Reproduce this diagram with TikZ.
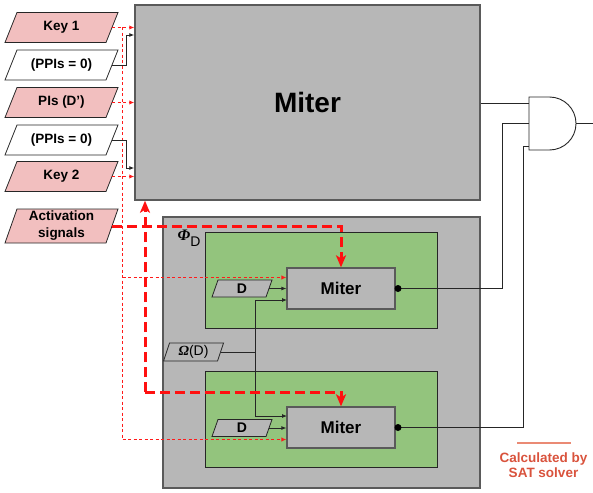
\documentclass[tikz,border=0pt]{standalone}
\usepackage{fontspec}
\setmainfont{Liberation Sans}
\newfontfamily\grk{Liberation Serif}
\usetikzlibrary{arrows.meta}
\definecolor{pinkf}{HTML}{F2BFBF}
\definecolor{grayf}{HTML}{B7B7B7}
\definecolor{greenf}{HTML}{93C47D}
\definecolor{bordg}{HTML}{5A5A5A}
\definecolor{satred}{HTML}{D9533D}
\definecolor{satline}{HTML}{EA8A74}
\definecolor{rdash}{HTML}{FF1010}
\definecolor{rdotc}{HTML}{FF1A1A}
\tikzset{
  paratext/.style={inner sep=0pt, align=center},
  leftlbl/.style={font=\bfseries\fontsize{13.5}{17}\selectfont},
  smalllbl/.style={font=\fontsize{14}{17}\selectfont},
  bigbox/.style={draw=bordg, fill=grayf, line width=1.5pt, inner sep=0pt},
  greenbox/.style={draw=black!85, fill=greenf, line width=1pt, inner sep=0pt},
  minibox/.style={draw=bordg, fill=grayf, line width=1.3pt, inner sep=0pt, font=\bfseries\fontsize{17}{20}\selectfont},
  blk/.style={draw=black!85, line width=0.8pt},
  blkarr/.style={blk, -{Latex[length=5pt,width=4pt]}},
  rdot/.style={draw=rdotc, line width=1.1pt, dash pattern=on 3pt off 2.5pt},
  rdotarr/.style={rdot, -{Latex[length=5pt,width=4.5pt]}},
  rthick/.style={draw=rdash, line width=3pt, dash pattern=on 10pt off 5pt, -{Stealth[length=12pt,width=10pt,inset=3pt]}},
}
\newcommand\paranode[9]{%
  \filldraw[fill=#7, draw=black!85, line width=0.8pt]
    ({#2-#4/2},{#3+#5/2}) -- ({#2-#4/2+#6},{#3-#5/2}) -- ({#2+#4/2},{#3-#5/2}) -- ({#2+#4/2-#6},{#3+#5/2}) -- cycle;
  \node[paratext,#8,minimum width={#4-#6},minimum height=#5] (#1) at (#2,#3) {#9};}
\begin{document}
\begin{tikzpicture}[x=1pt,y=-1pt]
\useasboundingbox (0,0) rectangle (593,492);

% boxes
\node[bigbox, minimum width=345, minimum height=195, font=\bfseries\fontsize{28}{32}\selectfont] (mm) at (307.5,102.5) {Miter};
\node[bigbox, minimum width=317, minimum height=271] (phi) at (321.5,352.5) {};
\node[greenbox, minimum width=232, minimum height=96] (g1box) at (321,280) {};
\node[greenbox, minimum width=232, minimum height=96] (g2box) at (321,419) {};
\node[minibox, minimum width=108, minimum height=41] (im1) at (341,288.5) {Miter};
\node[minibox, minimum width=108, minimum height=41] (im2) at (341,427.5) {Miter};

\node[inner sep=0pt] (phil) at (189,238) {{\grk\bfseries\itshape\fontsize{16}{18}\selectfont Φ}\raisebox{-1.1ex}{\fontsize{14}{16}\selectfont D}};

% left inputs
\paranode{key1}{61.5}{27.5}{113}{30}{12}{pinkf}{leftlbl}{Key 1}
\paranode{ppi1}{61.5}{65}{113}{30}{12}{white}{leftlbl}{(PPIs = 0)}
\paranode{pis}{61.5}{102.5}{113}{30}{12}{pinkf}{leftlbl}{PIs (D’)}
\paranode{ppi2}{61.5}{140}{113}{30}{12}{white}{leftlbl}{(PPIs = 0)}
\paranode{key2}{61.5}{176.5}{113}{30}{12}{pinkf}{leftlbl}{Key 2}
\paranode{act}{61.5}{226}{113}{34}{12}{pinkf}{leftlbl}{Activation\\signals}

% inner inputs
\paranode{d1}{242}{288.5}{60}{17}{6}{grayf}{font=\bfseries\fontsize{14}{16}\selectfont}{D}
\paranode{d2}{242}{428}{60}{17}{6}{grayf}{font=\bfseries\fontsize{14}{16}\selectfont}{D}
\paranode{om}{193.5}{352}{60}{18}{6}{grayf}{smalllbl}{{\grk\bfseries\itshape Ω}(D)}

% coordinates
\coordinate (rt) at (122.5,27.5);
\coordinate (rm) at (122.5,277.5);
\coordinate (rb) at (122.5,439.5);
\coordinate (b1) at (126,35);
\coordinate (b2) at (126,168);
\coordinate (vj) at (255,352);
\coordinate (i1c) at (287,300);
\coordinate (i2a) at (287,416);
\coordinate (jb) at (145,392);
\coordinate (o1) at (398,288.5);
\coordinate (o2) at (398,427.5);
\coordinate (ga) at (529,103);
\coordinate (gb) at (529,123);
\coordinate (gc) at (529,146);
\coordinate (vb) at (502,123);
\coordinate (vc) at (523,146);
\coordinate (gout) at (576,123.5);
\coordinate (gend) at (593,123.5);

% red dotted key/PI lines
\draw[rdot] (rt) -- (rb);
\draw[rdotarr] (key1.east) -- (mm.west |- key1.east);
\draw[rdotarr] (pis.east) -- (mm.west |- pis.east);
\draw[rdotarr] (key2.east) -- (mm.west |- key2.east);
\draw[rdotarr] (rm) -- (rm -| im1.west);
\draw[rdotarr] (rb) -- (rb -| im2.west);

% PPI lines
\draw[blkarr] (ppi1.east) -| (b1) -- (mm.west |- b1);
\draw[blkarr] (ppi2.east) -| (b2) -- (mm.west |- b2);

% inner connections
\draw[blkarr] (d1.east) -- (d1.east -| im1.west);
\draw[blkarr] (d2.east) -- (d2.east -| im2.west);
\draw[blk] (om.east) -- (vj);
\draw[blkarr] (vj) |- (i1c);
\draw[blkarr] (vj) |- (i2a);

% activation signals
\draw[rthick] (act.east) -| (im1.north);
\draw[rthick] (jb) -- (jb |- mm.south);
\draw[rthick] (jb) -| (im2.north);

% outputs and AND gate
\draw[blk] (mm.east |- ga) -- (ga);
\draw[blk] (o1) -| (vb) -- (gb);
\draw[blk] (o2) -| (vc) -- (gc);
\fill[black] (o1) circle[radius=3.5pt];
\fill[black] (o2) circle[radius=3.5pt];
\filldraw[fill=white, draw=black!85, line width=0.9pt] (529,97) -- (549.5,97) arc[start angle=90, end angle=-90, radius=26.5pt] -- (529,150) -- cycle;
\draw[blk] (gout) -- (gend);

% legend
\coordinate (la) at (517,443);
\coordinate (lb) at (571,443);
\draw[satline, line width=1.3pt] (la) -- (lb);
\node[text=satred, align=center, font=\bfseries\fontsize{13.5}{15.5}\selectfont] (sat) at (543.5,465) {Calculated by\\SAT solver};
\end{tikzpicture}
\end{document}
